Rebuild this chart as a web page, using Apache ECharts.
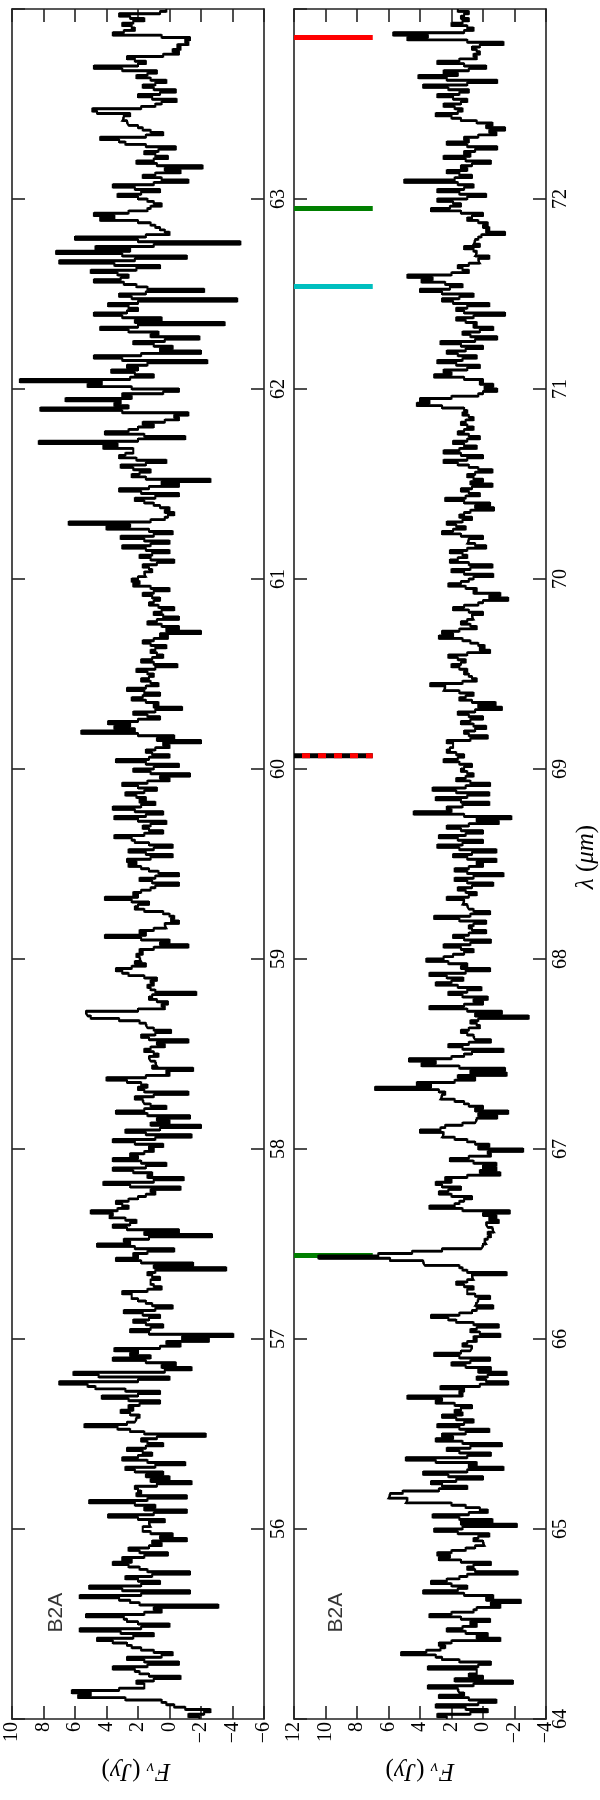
<!DOCTYPE html>
<html><head><meta charset="utf-8">
<script src="https://cdn.jsdelivr.net/npm/echarts@6/dist/echarts.min.js"></script>
<style>html,body{margin:0;padding:0;background:#fff}#c{width:600px;height:1800px}</style>
</head><body><div id="c"></div>
<script>
// wavelength ranges (micron) and flux ranges (Jy) of the two panels
const lambdaRangeA = [55, 64];
const lambdaRangeB = [64, 73];
const fluxRangeA = [-6, 10];
const fluxRangeB = [-4, 12];
const binWidth = 0.0125;          // spectral bin width (micron)
const panelLabel = 'B2A';

// Flux per bin (Jy), listed from the long-wavelength end downwards (64 -> 55 micron)
const fluxA = [
0.2,0.6, 3.2,2.5, 1.6,2.3, 3.0,2.4, 2.2,2.9, 3.6,0.5, -1.3,-1.0, -1.2,-0.5, -0.7,-0.2, -0.6,0.4,
2.7,2.2, 1.5,2.0, 4.8,3.0, 0.8,1.4, 2.1,1.2, 0.2,0.9, 1.7,1.0, -0.4,0.6, 2.0,1.1, -0.45,0.5,
0.9,1.8, 4.9,4.6, 2.5,2.9, 3.0,2.7, 2.6,2.0, 1.7,1.2, 0.4,1.5, 4.4,3.2, 2.8,1.5, -0.4,0.7,
1.6,0.9, 0.1,1.0, 2.1,0.8, -2.1,0.3, -0.7,0.9, 1.7,0.5, -1.2,1.0, 3.6,2.2, 0.6,1.8, 3.3,2.0,
1.4,1.0, 0.5,1.2, 1.4,2.6, 4.8,3.5, 4.4,2.0, 1.2,0.9, 0.6,0.3, 0.0,1.5, 6.0,2.0, -4.5,1.0,
4.7,2.5, 7.2,3.0, -1.1,2.2, 7.0,3.5, 0.6,2.1, 5.0,3.3, 2.6,3.1, 4.8,2.9, 2.1,1.4, -2.2,1.5,
3.2,2.4, -4.3,2.0, 3.9,2.6, 2.0,2.7, 4.8,3.0, 0.5,2.2, -3.5,2.0, 4.4,2.6, 0.7,1.2, -1.9,0.3,
2.3,1.0, -0.2,0.6, -2.0,1.8, 4.8,3.0, -2.4,1.4, 2.7,2.0, 3.7,2.2, 1.0,2.5, 9.5,4.3, 5.2,2.4,
-0.6,0.4, 3.0,2.4, 6.6,3.1, 3.5,2.6, 8.2,3.0, -1.2,-0.3, -0.6,0.3, 1.7,1.0, 2.0,2.6, 4.1,1.6,
-1.0,2.0, 8.3,3.3, 4.2,2.3,
2.3,2.8, 3.2,2.1, 0.2,1.5, 3.1,2.3, 1.2,1.9, 2.4,1.5, -2.6,0.5, -0.6,1.3, 3.2,1.8, -0.6,0.9,
2.2,1.6, 1.0,0.6, 0.0,0.3, -0.3,0.1, 0.3,1.2, 6.4,2.5, 4.0,1.3, -0.2,1.0, 3.1,1.6, 0.0,1.2,
3.0,1.5, 0.0,1.1, 1.9,1.2, -0.3,0.8, 1.7,1.3, 1.1,1.6, 1.5,2.0, 2.4,1.9, 2.3,1.2, 0.0,1.0,
1.7,1.1, 0.6,1.0, 1.3,0.7, -0.3,0.5, 1.0,0.4, -0.6,0.8, 1.4,0.5, -0.6,0.2, -2.0,0.6, 0.1,1.0,
1.7,1.2, 0.2,0.9, 1.2,0.8, 0.4,1.1, 1.8,1.0, -0.5,0.9, 2.1,1.4, 1.0,1.3, 1.8,1.2, 0.7,1.5,
2.7,1.6, 0.6,1.7, 2.4,1.5, 0.7,1.0, -0.8,0.9, 2.3,1.4, 0.6,2.0, 3.9,2.5, 3.5,2.2, 5.6,2.0,
-0.3,0.8, -2.0,0.4, 0.0,0.9, 1.5,1.1, 0.0,1.3, 3.4,1.5, -0.6,1.0, 2.3,1.2, -1.3,0.6, 0.0,1.4,
3.0,2.0, 0.8,1.6, 2.8,2.1, 1.5,1.9, 0.9,1.8, 3.6,2.2, 0.4,1.5, 3.5,2.0, 0.2,1.2, 1.7,1.3,
0.4,1.6, 3.5,2.4, 2.2,1.3, -0.2,1.0, 2.6,1.5, -0.2,1.2, 2.7,2.1, 2.6,1.8, 1.3,0.7, -0.6,0.9,
1.9,1.1, -0.6,0.9, 1.2,1.8, 2.3,2.0, 4.1,2.4,
1.3,2.0, 2.2,1.6, 0.4,0.0, -0.3,-0.1, -0.6,0.3, 0.2,1.0, 1.9,1.5, 4.1,1.8, 0.0,0.6, -1.2,1.0,
1.9,1.7, 2.1,1.9, 1.8,2.2, 1.5,2.4, 3.4,3.0, 2.6,1.6, 0.8,1.2, 1.0,1.4, 1.2,0.9, -1.7,1.1,
1.3,0.8, 0.1,0.5, 0.3,2.0, 5.3,5.2, 5.0,3.2, 1.9,1.5, 1.4,1.0, -0.1,0.9, 1.8,1.3, -1.2,0.8,
0.3,1.2, 1.6,1.0, 0.7,1.3, 1.2,0.9, 0.8,1.1, -1.5,0.2, 0.0,1.5, 4.0,2.7, 1.8,1.4, 2.0,1.6,
-1.2,1.0, 2.2,1.7, 1.6,1.2, 0.2,1.6, 3.4,1.4, -1.3,0.8, 0.0,1.2, -2.0,0.6, 2.8,1.5, -1.4,0.9,
3.6,2.2, 0.4,1.3, 1.0,1.6, 2.5,2.0, 3.6,1.8, 0.2,1.5, 3.6,2.3, 1.1,1.4, -0.9,1.0, 4.2,2.5,
-0.7,1.2, 0.9,1.5, 2.0,2.6, 3.4,3.0, 2.6,3.3, 5.0,3.6, 3.8,2.8, 2.1,2.5, 3.6,2.7, -0.6,1.6,
-2.7,1.3, 2.9,2.5, 4.6,2.2, -0.3,1.4, 2.3,2.0, 3.4,1.8, -1.5,1.0, -3.6,0.9, 1.4,1.1, 0.6,1.2,
1.2,1.0, 0.5,1.4, 3.0,2.4, 2.4,2.0, 1.5,1.1, -0.2,0.9, 2.9,1.7, 0.6,1.3, 2.3,1.5, 0.4,1.2,
2.5,1.3, -4.05,-0.8, -2.5,0.2, -0.7,0.6, 3.5,2.0,
2.5,1.2, 3.6,1.5, -0.4,0.5, -1.4,0.3, 6.1,4.5, 0.0,2.0, 7.0,5.2, 4.7,2.8, 0.6,2.0, 4.3,2.6,
0.6,1.9, 2.6,2.3, 3.1,2.5, 1.9,2.1, 2.2,2.7, 5.4,3.3, 2.5,1.6, -2.3,0.8, 1.8,1.4, 0.4,1.5,
2.7,1.7, 1.1,2.0, 3.0,1.4, -1.0,0.9, 2.8,2.2, 0.4,1.5, 0.0,1.2, -1.4,0.8, 2.2,2.0, 1.8,2.1,
-1.1,1.4, 5.1,2.2, 0.9,1.6, -1.1,1.0, 3.9,2.0, 0.3,1.3, 1.2,1.7, 1.7,1.2, -0.2,0.6, -1.1,1.1,
0.5,1.3, 2.6,1.9, 0.1,1.6, 3.0,2.4, 3.6,2.6, 1.9,1.4, -1.3,1.1, 2.8,2.0, 0.6,1.8, 5.1,3.0,
-1.3,1.8, 5.7,3.2, 2.5,1.9, -3.1,1.0, 0.5,1.6, 5.3,2.9, 2.7,2.0, 0.0,1.8, 5.7,3.1, 1.0,2.3,
4.6,3.6, 2.7,2.4, 1.8,1.0, -0.2,0.5, 2.7,1.6, -0.6,1.4, 3.6,2.2, 1.9,1.3, -0.7,1.0, 2.1,1.6,
1.6,3.2, 6.2,5.0, 5.8,2.8, 0.5,0.2, -0.3,-1.0, -2.6,-2.2, -1.2,-1.9
];

// Flux per bin (Jy), listed from the long-wavelength end downwards (73 -> 64 micron)
const fluxB = [
1.6,0.9, 1.2,1.4, 0.9,1.3, 2.0,1.0, 0.6,1.2, 5.7,3.5, 4.8,1.0, -1.3,0.2, 0.7,0.4, 0.2,0.6,
0.4,1.5, 2.9,1.2, -0.2,0.9, 2.5,1.6, 4.1,2.3, -0.9,1.0, 3.8,2.2, 0.9,1.5, 2.9,1.9, 1.0,1.4,
2.5,1.8, 1.3,1.6, 3.0,2.0, 1.4,0.4, -0.6,-0.2, -1.4,-0.4, -0.85,0.3, 1.2,0.9, 2.3,1.0, -0.9,0.5,
1.2,0.8, 2.5,1.1, -0.5,0.7, 1.4,1.0, 2.3,1.5, 0.7,1.8, 5.0,1.6, 0.6,1.2, 2.9,1.5, -0.2,1.0,
2.9,1.9, 1.4,2.1, 3.3,1.4, 0.0,0.7, 1.0,0.3, -0.3,0.0, -0.4,-0.2, -1.4,0.1, 0.3,0.5, 0.6,0.2,
1.2,0.6, 0.4,0.5, -0.4,0.3, 0.2,0.9, 1.6,1.3, 0.9,2.0, 4.8,3.2, 3.9,2.4, 1.3,2.1, 4.0,2.6,
0.6,1.5, 2.6,1.9, -0.4,1.0, 1.7,1.2, -1.4,0.6, 1.7,1.1, 0.4,0.6, -0.65,0.2, 1.3,0.8, -0.9,0.5,
2.7,1.4, 0.0,1.1, 2.3,1.6, 0.4,1.3, 2.9,1.7, 0.2,1.0, 2.5,2.0, 3.1,1.2, 0.0,0.2, -0.65,-0.1,
-0.9,0.0, 0.3,2.0, 4.0,3.4, 4.2,2.6, 1.2,1.0, 1.3,0.9, 0.6,1.1, 1.4,1.0, 0.6,1.2, 1.6,0.9,
0.2,1.0, 1.9,1.2, 0.4,1.5,
2.5,1.4, 0.0,1.0, 2.5,1.6, 0.9,0.3, -0.6,0.5, 1.0,0.6, 0.0,0.8, -0.6,0.7, 1.4,0.9, 0.2,1.1,
2.4,1.2, -0.45,0.5, -0.7,0.8, 1.2,1.5, 0.7,1.3, 2.3,1.7, 1.1,1.9, 2.6,1.4, 0.0,0.9, 1.0,0.5,
-0.2,1.0, 2.1,1.3, 1.0,1.6, 2.1,0.9, -0.6,0.8, 2.0,1.2, -0.65,0.6, 0.9,1.4, 2.2,1.1, 0.4,0.6,
-1.1,-0.4, -1.6,0.0, 0.3,1.2, 1.9,0.9, 0.0,0.7, 0.6,1.0, 1.4,0.8, 0.4,1.5, 2.6,1.9, 2.8,1.3,
0.8,0.3, -0.1,0.2, -0.45,1.0, 2.2,1.6, 1.1,1.4, 2.0,1.5, 1.0,1.2, 0.9,0.7, 0.4,1.3, 3.35,2.4,
2.5,1.5, 0.6,1.1, 1.5,0.7, -0.8,0.3, -1.2,0.5, 1.6,0.9, 0.0,0.8, 1.4,0.6, -0.2,0.5, 1.2,0.9,
-0.3,0.8, 2.3,1.9, 1.9,2.1, 2.3,1.7, 1.2,1.6, 2.5,1.5, 0.7,1.2, 1.4,1.0, 0.6,1.1, 1.7,0.8,
-0.45,1.1, 3.2,1.7, -0.4,1.0, 3.0,1.4, -0.4,1.3, 2.3,2.0, 4.4,1.2, -1.8,0.4, -1.0,0.9, 2.3,1.4,
0.0,1.1, 2.8,1.6, 0.0,1.3, 2.9,1.5, -0.85,0.7, 1.9,1.0, -0.85,0.4, 0.0,0.9, 1.8,1.0, -1.3,0.6,
1.8,1.0, -0.65,0.7, 1.6,1.1, 0.4,0.9, 2.3,1.2,
1.3,1.0, 0.9,0.6, -0.45,0.8, 3.1,1.5, -0.2,0.6, 0.9,0.7, -0.2,0.9, 1.9,1.2, -0.5,0.8, 2.5,1.4,
0.6,1.2, 1.9,2.5, 3.6,2.2, 1.0,1.4, -0.45,1.1, 3.4,2.3, 1.25,2.0, 3.0,1.6, 0.1,1.0, 2.2,1.3,
-0.3,0.6, 0.0,1.2, 3.4,1.0, -1.2,0.5, -2.9,0.3, 0.8,0.4, 0.2,0.9, 1.4,1.0, 0.6,0.5, -0.5,0.9,
2.2,1.3, -1.3,0.7, 1.2,2.0, 4.7,3.0, 3.9,1.5, -1.4,0.8, -1.5,1.6, 0.5,1.8, 4.2,3.3, 6.85,2.8,
2.4,2.6, 2.7,1.8, 1.2,0.9, 0.0,0.5, -1.6,0.3, -0.9,0.4, 0.5,1.3, 2.4,2.7, 4.0,2.5, 2.6,1.8,
1.0,0.5, -0.4,0.3, -2.55,-0.3, -0.5,0.9, 2.1,0.6, -0.85,0.0, -0.85,0.2, -1.1,1.0, 2.4,2.0, 3.0,2.6,
1.4,2.2, 2.8,2.0, 0.7,1.2, 1.5,1.8, 3.4,1.3, -1.7,0.0, -0.85,-0.4, -1.0,-0.2, -0.3,-0.6, -0.7,-0.3,
-0.5,-0.3, -0.1,-0.2, 0.0,0.1, 2.6,4.5, 6.65,10.45, 5.9,3.8, 3.7,1.5, 1.3,1.0, -1.5,0.7, 0.6,1.0,
1.7,1.2, 0.6,1.0, 1.0,0.5, -0.45,0.3, 0.4,0.5, -0.65,0.4, 0.7,1.5, 3.3,2.2, 1.7,0.6, -1.0,0.4,
0.8,0.2, -1.1,0.6, 0.4,1.0, 1.3,0.7, 0.8,1.4,
3.1,1.5, -0.45,0.8, 2.0,1.1, -0.5,0.3, -1.5,-0.3, 0.4,-0.2, -1.6,0.2, 2.7,1.2, 1.5,1.3, 4.8,2.6,
3.0,1.8, 0.7,1.4, 1.8,1.3, 2.6,1.7, 0.6,1.2, 2.9,1.5, -0.4,1.1, 2.6,1.9, 3.0,1.3, -1.2,0.8,
2.3,1.5, -0.5,1.0, 4.9,3.0, 0.4,0.9, -1.3,1.0, 3.8,2.2, 0.0,1.7, 3.3,2.6, 1.0,2.8, 5.1,5.9,
6.0,4.8, 4.9,2.0, 1.1,0.2, -0.3,0.9, 3.2,1.5, -0.6,1.4, -2.15,1.3, 3.1,1.6, -0.4,0.3, 0.6,0.0,
-0.1,0.5, 1.1,2.0, 2.9,2.1, 2.8,1.4, -0.5,0.6, 1.0,0.5, -2.2,1.0, 1.5,2.3, 3.3,2.0, 1.0,1.6,
3.8,1.2, -0.65,-0.2, -2.4,-0.5, -1.1,0.4, 0.6,2.0, 3.4,1.4, -0.45,0.8, 0.4,1.3, 2.3,1.1, -0.3,0.4,
-1.1,2.0, 2.8,2.4, 2.7,3.6, 5.2,3.0, 2.6,1.5, -0.5,0.3, 3.5,0.4, 0.4,0.9, 0.0,1.8, -1.9,0.6,
3.5,1.6, 1.5,1.2, 2.8,0.9, -0.85,0.3, 3.0,1.1, -0.3,0.8, 2.9,2.3
];

// line identification markers drawn in the right panel
const markerLambda = [72.85, 71.95, 71.54, 69.07, 66.44];
const markerColor = ['#ff0000', '#007f00', '#00bfbf', '#ff0000', '#007f00'];
const markerDashed = [false, false, false, true, false];
const markerFluxSpan = [12, 7];

// label anchor positions (flux, lambda)
const labelPosA = [7.2, 55.56];
const labelPosB = [9.33, 64.56];

// full step outline: a vertical run for each bin, joined by flux jumps
function stepPoints(flux, lamMax) {
  const pts = [];
  flux.forEach(function (f, i) {
    const hi = lamMax - i * binWidth;
    const lo = hi - binWidth;
    pts.push([f, hi], [f, lo]);
  });
  return pts;
}
// only the flux jumps between neighbouring bins (drawn a little heavier)
function jumpPoints(flux, lamMax) {
  const pts = [];
  for (let i = 0; i < flux.length - 1; i++) {
    const edge = lamMax - (i + 1) * binWidth;
    pts.push([flux[i], edge], [flux[i + 1], edge], '-');
  }
  return pts;
}

const SERIF = 'Liberation Serif';
const frameColor = '#222';
const axisLineStyle = { show: true, onZero: false, lineStyle: { color: frameColor, width: 1.6 } };
const tickStyle = { show: true, inside: true, length: 13, lineStyle: { color: frameColor, width: 1.6 } };
const minus = function (v) { return String(v).replace('-', '\u2212'); };

function fluxAxes(grid, range) {
  return [
    { type: 'value', gridIndex: grid, min: range[0], max: range[1], interval: 2, inverse: true,
      position: 'bottom', axisLine: axisLineStyle, axisTick: tickStyle, splitLine: { show: false },
      axisLabel: { rotate: 90, margin: 3, fontFamily: SERIF, fontSize: 20, color: '#000', formatter: minus } },
    { type: 'value', gridIndex: grid, min: range[0], max: range[1], interval: 2, inverse: true,
      position: 'top', axisLine: axisLineStyle, axisTick: tickStyle, splitLine: { show: false },
      axisLabel: { show: false } }
  ];
}
function lamAxes(grid, range, showMin) {
  return [
    { type: 'value', gridIndex: grid, min: range[0], max: range[1], interval: 1,
      position: 'right', axisLine: axisLineStyle, axisTick: tickStyle, splitLine: { show: false },
      axisLabel: { rotate: 90, margin: 5, fontFamily: SERIF, fontSize: 20, color: '#000',
        showMinLabel: showMin, showMaxLabel: false } },
    { type: 'value', gridIndex: grid, min: range[0], max: range[1], interval: 1,
      position: 'left', axisLine: axisLineStyle, axisTick: tickStyle, splitLine: { show: false },
      axisLabel: { show: false } }
  ];
}

const series = [];
markerLambda.forEach(function (lam, k) {
  const data = [[markerFluxSpan[0], lam], [markerFluxSpan[1], lam]];
  if (markerDashed[k]) {
    series.push({ type: 'line', xAxisIndex: 2, yAxisIndex: 2, data: data, showSymbol: false, silent: true, z: 1,
      lineStyle: { color: '#000', width: 5, cap: 'butt' } });
    series.push({ type: 'line', xAxisIndex: 2, yAxisIndex: 2, data: data, showSymbol: false, silent: true, z: 2,
      lineStyle: { color: markerColor[k], width: 5, cap: 'butt', type: [8, 8], dashOffset: 8 } });
  } else {
    series.push({ type: 'line', xAxisIndex: 2, yAxisIndex: 2, data: data, showSymbol: false, silent: true, z: 1,
      lineStyle: { color: markerColor[k], width: 5, cap: 'butt' } });
  }
});
[[0, fluxA, lambdaRangeA[1]], [2, fluxB, lambdaRangeB[1]]].forEach(function (p) {
  series.push({ type: 'line', xAxisIndex: p[0], yAxisIndex: p[0], data: stepPoints(p[1], p[2]),
    showSymbol: false, silent: true, z: 5, lineStyle: { color: '#000', width: 2, join: 'miter' } });
  series.push({ type: 'line', xAxisIndex: p[0], yAxisIndex: p[0], data: jumpPoints(p[1], p[2]), connectNulls: false,
    showSymbol: false, silent: true, z: 5, lineStyle: { color: '#000', width: 2.8, cap: 'butt' } });
});
[[0, labelPosA], [2, labelPosB]].forEach(function (p) {
  series.push({ type: 'scatter', xAxisIndex: p[0], yAxisIndex: p[0], data: [p[1]], symbolSize: 1, silent: true, z: 6,
    itemStyle: { color: 'rgba(0,0,0,0)' },
    label: { show: true, formatter: panelLabel, position: 'inside', rotate: 90,
      fontFamily: 'Liberation Sans', fontSize: 21, color: '#000' } });
});

const titleRich = {
  i: { fontFamily: SERIF, fontStyle: 'italic', fontSize: 25 },
  r: { fontFamily: SERIF, fontSize: 25 },
  s: { fontFamily: SERIF, fontStyle: 'italic', fontSize: 17, verticalAlign: 'bottom', padding: [8, 0, 0, 1] }
};
const fluxTitle = '{i|F}{s|ν}{r| (}{i|Jy}{r|)}';
const lamTitle = '{i|λ}{r| (}{i|μm}{r|)}';

const chart = echarts.init(document.getElementById('c'), null, { renderer: 'canvas' });
chart.setOption({
  animation: false,
  backgroundColor: '#fff',
  grid: [
    { left: 12, top: 9, width: 252, height: 1710, outerBoundsMode: 'none' },
    { left: 294, top: 9, width: 252, height: 1710, outerBoundsMode: 'none' }
  ],
  xAxis: fluxAxes(0, fluxRangeA).concat(fluxAxes(1, fluxRangeB)),
  yAxis: lamAxes(0, lambdaRangeA, false).concat(lamAxes(1, lambdaRangeB, true)),
  series: series,
  graphic: [
    { type: 'text', x: 136, y: 1771, rotation: Math.PI, silent: true,
      style: { text: fluxTitle, rich: titleRich, align: 'center', verticalAlign: 'middle', fill: '#000' } },
    { type: 'text', x: 420, y: 1771, rotation: Math.PI, silent: true,
      style: { text: fluxTitle, rich: titleRich, align: 'center', verticalAlign: 'middle', fill: '#000' } },
    { type: 'text', x: 586, y: 857, rotation: Math.PI / 2, silent: true,
      style: { text: lamTitle, rich: titleRich, align: 'center', verticalAlign: 'middle', fill: '#000' } }
  ]
});
</script></body></html>
